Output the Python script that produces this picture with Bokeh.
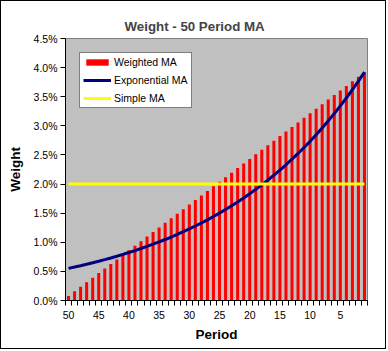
from bokeh.plotting import figure
from bokeh.models import ColumnDataSource, FixedTicker, NumeralTickFormatter, Range1d
from bokeh.embed import file_html
from bokeh.resources import INLINE

# ---- data (weights in percent) ----
periods = list(range(50, 0, -1))  # 50 ... 1, left to right

weighted_pct = [
    0.0784, 0.1569, 0.2353, 0.3137, 0.3922, 0.4706, 0.5490, 0.6275, 0.7059, 0.7843,
    0.8627, 0.9412, 1.0196, 1.0980, 1.1765, 1.2549, 1.3333, 1.4118, 1.4902, 1.5686,
    1.6471, 1.7255, 1.8039, 1.8824, 1.9608, 2.0392, 2.1176, 2.1961, 2.2745, 2.3529,
    2.4314, 2.5098, 2.5882, 2.6667, 2.7451, 2.8235, 2.9020, 2.9804, 3.0588, 3.1373,
    3.2157, 3.2941, 3.3725, 3.4510, 3.5294, 3.6078, 3.6863, 3.7647, 3.8431, 3.9216,
]

exponential_pct = [
    0.5523, 0.5748, 0.5983, 0.6227, 0.6481, 0.6746, 0.7021, 0.7308, 0.7606, 0.7916,
    0.8239, 0.8575, 0.8925, 0.9290, 0.9669, 1.0063, 1.0474, 1.0902, 1.1347, 1.1810,
    1.2292, 1.2794, 1.3316, 1.3859, 1.4425, 1.5014, 1.5627, 1.6264, 1.6928, 1.7619,
    1.8338, 1.9087, 1.9866, 2.0677, 2.1521, 2.2399, 2.3313, 2.4265, 2.5255, 2.6286,
    2.7359, 2.8476, 2.9638, 3.0848, 3.2107, 3.3417, 3.4781, 3.6201, 3.7678, 3.9216,
]

simple_pct = [2.0] * 50

y_ticks_pct = [0.0, 0.5, 1.0, 1.5, 2.0, 2.5, 3.0, 3.5, 4.0, 4.5]
label_periods = [50, 45, 40, 35, 30, 25, 20, 15, 10, 5]

FONT = "Liberation Sans"

x = list(range(len(periods)))
src = ColumnDataSource(dict(
    x=x,
    period=periods,
    w=[v / 100 for v in weighted_pct],
    e=[v / 100 for v in exponential_pct],
    s=[v / 100 for v in simple_pct],
))

p = figure(
    width=386, height=349,
    output_backend="svg", toolbar_location=None,
    x_range=Range1d(-0.5, len(periods) - 0.5),
    y_range=Range1d(0, y_ticks_pct[-1] / 100),
    min_border_left=64, min_border_right=20, min_border_top=37, min_border_bottom=50,
    background_fill_color="#C0C0C0", border_fill_color="white",
    styles={"border": "1px solid black"},
    title="Weight - 50 Period MA",
)

p.title.text_font = FONT
p.title.text_font_size = "13.3px"
p.title.text_font_style = "bold"
p.title.align = "left"
p.title.offset = 59
p.title.standoff = 10

p.xgrid.visible = False
p.ygrid.visible = False
p.outline_line_color = "#808080"
p.outline_line_width = 1

p.vbar(x="x", top="w", width=0.5, source=src, fill_color="#FF0000",
       line_color=None, legend_label="Weighted MA")
p.line(x="x", y="e", source=src, line_color="#000080", line_width=3,
       legend_label="Exponential MA")
p.line(x="x", y="s", source=src, line_color="#FFFF00", line_width=3,
       legend_label="Simple MA")

# x axis: labels every 5 periods, ticks between categories
label_pos = [periods.index(v) for v in label_periods]
p.xaxis.ticker = FixedTicker(ticks=label_pos,
                             minor_ticks=[i - 0.5 for i in range(len(periods) + 1)])
p.xaxis.major_label_overrides = {pos: str(periods[pos]) for pos in label_pos}
p.xaxis.major_tick_out = 0
p.xaxis.major_tick_in = 0
p.xaxis.minor_tick_out = 5
p.xaxis.minor_tick_in = 0
p.xaxis.minor_tick_line_color = "black"
p.xaxis.major_label_standoff = 5
p.xaxis.axis_label = "Period"
p.xaxis.axis_label_standoff = 5

# y axis
p.yaxis.ticker = FixedTicker(ticks=[v / 100 for v in y_ticks_pct], minor_ticks=[])
p.yaxis.formatter = NumeralTickFormatter(format="0.0%")
p.yaxis.major_tick_out = 5
p.yaxis.major_tick_in = 0
p.yaxis.minor_tick_out = 0
p.yaxis.minor_tick_in = 0
p.yaxis.major_label_standoff = 3
p.yaxis.axis_label = "Weight"
p.yaxis.axis_label_standoff = 8

for ax in (p.xaxis, p.yaxis):
    ax.axis_line_color = "black"
    ax.major_tick_line_color = "black"
    ax.major_label_text_font = FONT
    ax.major_label_text_font_size = "10.5px"
    ax.major_label_text_color = "black"
    ax.axis_label_text_font = FONT
    ax.axis_label_text_font_size = "13.5px"
    ax.axis_label_text_font_style = "bold"
    ax.axis_label_text_color = "black"

lg = p.legend[0]
lg.location = "top_left"
lg.margin = 14
lg.padding = 3
lg.spacing = 6
lg.border_line_color = "black"
lg.border_line_width = 1
lg.background_fill_color = "white"
lg.background_fill_alpha = 1.0
lg.label_text_font = FONT
lg.label_text_font_size = "10.5px"
lg.label_text_color = "black"
lg.glyph_width = 28
lg.glyph_height = 8
lg.label_height = 12
lg.label_standoff = 3

open("out.html", "w").write(file_html(p, INLINE))
